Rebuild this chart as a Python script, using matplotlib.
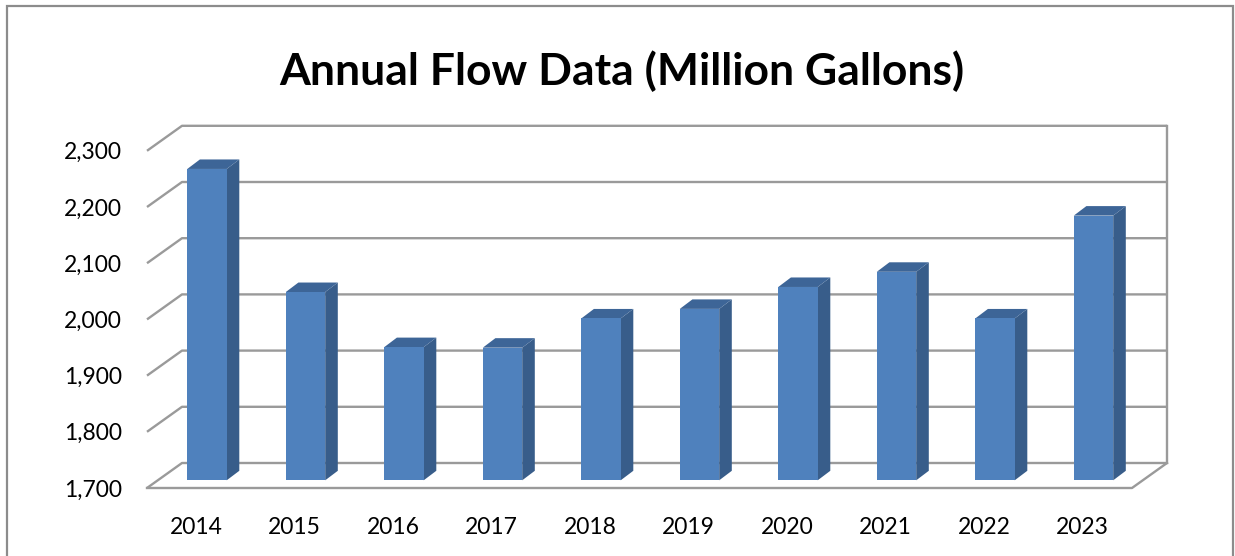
import matplotlib.pyplot as plt
from matplotlib.patches import Polygon, Rectangle

# data
years = ['2014', '2015', '2016', '2017', '2018', '2019', '2020', '2021', '2022', '2023']
flows = [2254, 2035, 1937, 1936, 1988, 2005, 2044, 2071, 1988, 2171]
y_ticks = [1700, 1800, 1900, 2000, 2100, 2200, 2300]

plt.rcParams['font.family'] = ['Lato', 'DejaVu Sans']

W, H = 1235, 556
fig = plt.figure(figsize=(W / 100, H / 100), dpi=100)

# outer chart frame
fig.patches.append(Rectangle((7 / W, -0.05), (1233 - 7) / W, (H - 6) / H + 0.05,
                             transform=fig.transFigure, fill=False,
                             edgecolor='#8c8c8c', linewidth=1.6))

# axes = the front plane of the 3d box (pixels from top-left of the picture)
left, right, bottom, top = 147, 1132, 488, 150.8
ax = fig.add_axes([left / W, 1 - bottom / H, (right - left) / W, (bottom - top) / H])
ax.set_xlim(-0.5, len(years) - 0.5)
ax.set_ylim(y_ticks[0], y_ticks[-1])
for s in ax.spines.values():
    s.set_visible(False)
ax.patch.set_visible(False)


def shift(x, y, dx, dy):
    # move a data point by some pixels on screen, result back in data units
    px = ax.transData.transform((x, y))
    return ax.transData.inverted().transform((px[0] + dx, px[1] + dy))


back = (35, 25)       # depth of the box
bar_off = (10.75, 7.7)  # where the bar front faces sit
bar_depth = (12.6, 9.5)
grid_col = '#9a9a9a'
x0, x1 = -0.5, len(years) - 0.5

# back wall + left wall gridlines
for v in y_ticks:
    a = shift(x0, v, 0, 0)
    b = shift(x0, v, *back)
    c = shift(x1, v, *back)
    ax.plot([a[0], b[0], c[0]], [a[1], b[1], c[1]], color=grid_col, lw=1.7,
            clip_on=False, zorder=1, solid_capstyle='butt')

# back wall right edge
p = shift(x1, y_ticks[0], *back)
q = shift(x1, y_ticks[-1], *back)
ax.plot([p[0], q[0]], [p[1], q[1]], color=grid_col, lw=1.7, clip_on=False, zorder=1)

# floor front + right edge
r = shift(x1, y_ticks[0], *back)
ax.plot([x0, x1, r[0]], [y_ticks[0], y_ticks[0], r[1]], color=grid_col, lw=1.7,
        clip_on=False, zorder=1)

# bars
half = 0.2
for i, v in enumerate(flows):
    fl = shift(i - half, y_ticks[0], *bar_off)
    fr = shift(i + half, y_ticks[0], *bar_off)
    tl = shift(i - half, v, *bar_off)
    tr = shift(i + half, v, *bar_off)
    d = (bar_off[0] + bar_depth[0], bar_off[1] + bar_depth[1])
    br = shift(i + half, y_ticks[0], *d)
    tr2 = shift(i + half, v, *d)
    tl2 = shift(i - half, v, *d)
    ax.add_patch(Polygon([fr, br, tr2, tr], closed=True, facecolor='#385d8a',
                         edgecolor='none', clip_on=False, zorder=3))
    ax.add_patch(Polygon([tl, tr, tr2, tl2], closed=True, facecolor='#3d6597',
                         edgecolor='none', clip_on=False, zorder=3))
    ax.add_patch(Polygon([fl, fr, tr, tl], closed=True, facecolor='#4f81bd',
                         edgecolor='none', clip_on=False, zorder=4))

ax.set_yticks(y_ticks)
ax.set_yticklabels([f'{v:,}' for v in y_ticks])
ax.set_xticks(range(len(years)))
ax.set_xticklabels(years)
ax.tick_params(axis='y', length=0, pad=18, labelsize=16.5)
ax.tick_params(axis='x', length=0, pad=21, labelsize=16.5)

fig.text(622 / W, 1 - 71 / H, 'Annual Flow Data (Million Gallons)', ha='center', va='center',
         fontsize=32, fontweight='bold')

fig.savefig('out.png', dpi=100)
